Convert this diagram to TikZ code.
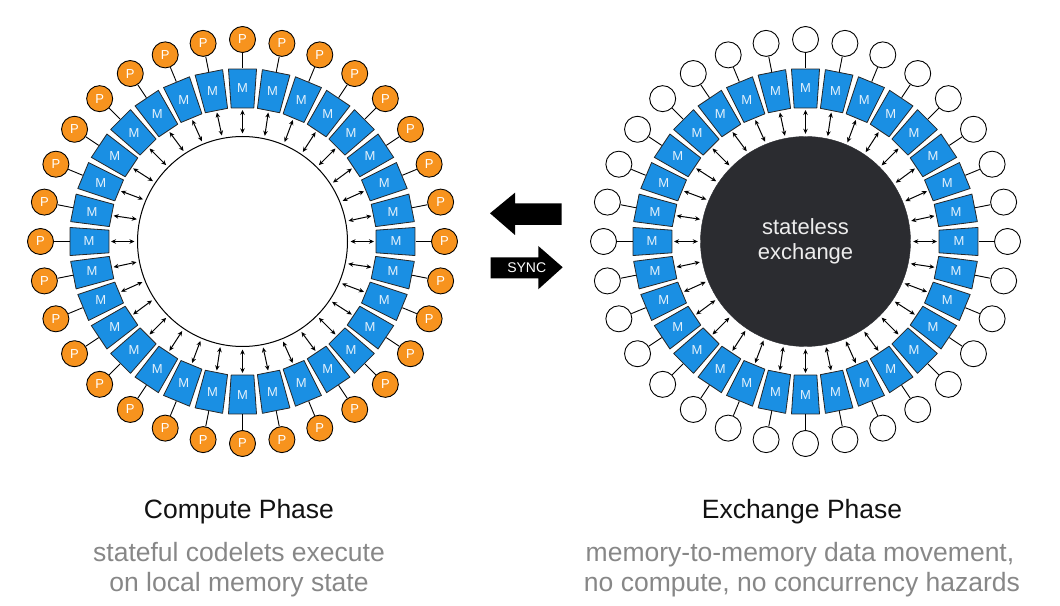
\documentclass[tikz,border=0pt]{standalone}
\usepackage{fontspec}
\setmainfont{Liberation Sans}
\usetikzlibrary{arrows.meta}

\definecolor{memblue}{HTML}{1A8FE3}
\definecolor{procorange}{HTML}{F7931E}
\definecolor{coredark}{HTML}{2B2C30}
\definecolor{captiongray}{HTML}{878787}

\tikzset{
    membox/.style={fill=memblue, draw=black!85, line width=0.8pt, line join=round},
    memlabel/.style={inner sep=0pt, text=white!88!memblue, font=\fontsize{13}{13}\selectfont},
    proc/.style={circle, minimum size=26pt, inner sep=0pt, draw=black, line width=0.9pt,
        fill=procorange, text=white, font=\fontsize{13}{13}\selectfont},
    idle/.style={circle, minimum size=26pt, inner sep=0pt, draw=black, line width=0.9pt, fill=white},
    link/.style={line width=0.9pt},
    access/.style={<->, >={Stealth[length=5pt, width=4.5pt]}, line width=1pt,
        shorten <=2.5pt, shorten >=2.5pt},
    phase/.style={anchor=base, text=black!93, font=\fontsize{26.5}{26.5}\selectfont},
    note/.style={anchor=base, text=captiongray, font=\fontsize{26.5}{26.5}\selectfont}
}

\begin{document}
\begin{tikzpicture}[x=1pt, y=1pt]
    \useasboundingbox (0,0) rectangle (1060,605);
    % compute phase
    \begin{scope}[shift={(242.5,363.5)}]
        \node (cc) [circle, minimum size=210pt, draw, line width=1pt, fill=white] at (0,0) {};
        \foreach \i [evaluate=\i as \a using \i*11.25] in {0,...,31} {
            \filldraw[membox] (\a-4.85:134) -- (\a-4.65:173) -- (\a+4.65:173) -- (\a+4.85:134) -- cycle;
            \coordinate (cmi\i) at (\a:134);
            \coordinate (cmo\i) at (\a:173);
            \node (cm\i) [memlabel] at (\a:153.5) {M};
            \node (cp\i) [proc] at (\a:202) {P};
            \draw[link] (cmo\i) -- (cp\i);
            \draw[access] (cc.\a) -- (cmi\i);
        }
    \end{scope}
    % exchange phase
    \begin{scope}[shift={(805.5,363.5)}]
        \node (xc) [circle, minimum size=210pt, fill=coredark, draw=coredark, align=center,
            text=white!93!black, font=\fontsize{22}{25}\selectfont] at (0,0) {stateless\\exchange};
        \foreach \i [evaluate=\i as \a using \i*11.25] in {0,...,31} {
            \filldraw[membox] (\a-4.85:134) -- (\a-4.65:173) -- (\a+4.65:173) -- (\a+4.85:134) -- cycle;
            \coordinate (xmi\i) at (\a:134);
            \coordinate (xmo\i) at (\a:173);
            \node (xm\i) [memlabel] at (\a:153.5) {M};
            \node (xp\i) [idle] at (\a:202) {};
            \draw[link] (xmo\i) -- (xp\i);
            \draw[access] (xc.\a) -- (xmi\i);
        }
    \end{scope}
    % block arrows
    \fill (490,391.7) -- (515,412.3) -- (515,401.7) -- (561.7,401.7) -- (561.7,380)
        -- (515,380) -- (515,370) -- cycle;
    \fill (490.7,347.7) -- (538.3,347.7) -- (538.3,359) -- (562.7,337.7) -- (538.3,315.7)
        -- (538.3,326.7) -- (490.7,326.7) -- cycle;
    \node (sync) at (526.7,337.3) [text=white, font=\fontsize{14}{14}\selectfont] {SYNC};
    % captions
    \node (ctitle) at (239,86) [phase] {Compute Phase};
    \node (cnote1) at (239,43.3) [note] {stateful codelets execute};
    \node (cnote2) at (239,13) [note] {on local memory state};
    \node (xtitle) at (802,86) [phase] {Exchange Phase};
    \node (xnote1) at (800,43.3) [note] {memory-to-memory data movement,};
    \node (xnote2) at (802,13) [note] {no compute, no concurrency hazards};
\end{tikzpicture}
\end{document}
